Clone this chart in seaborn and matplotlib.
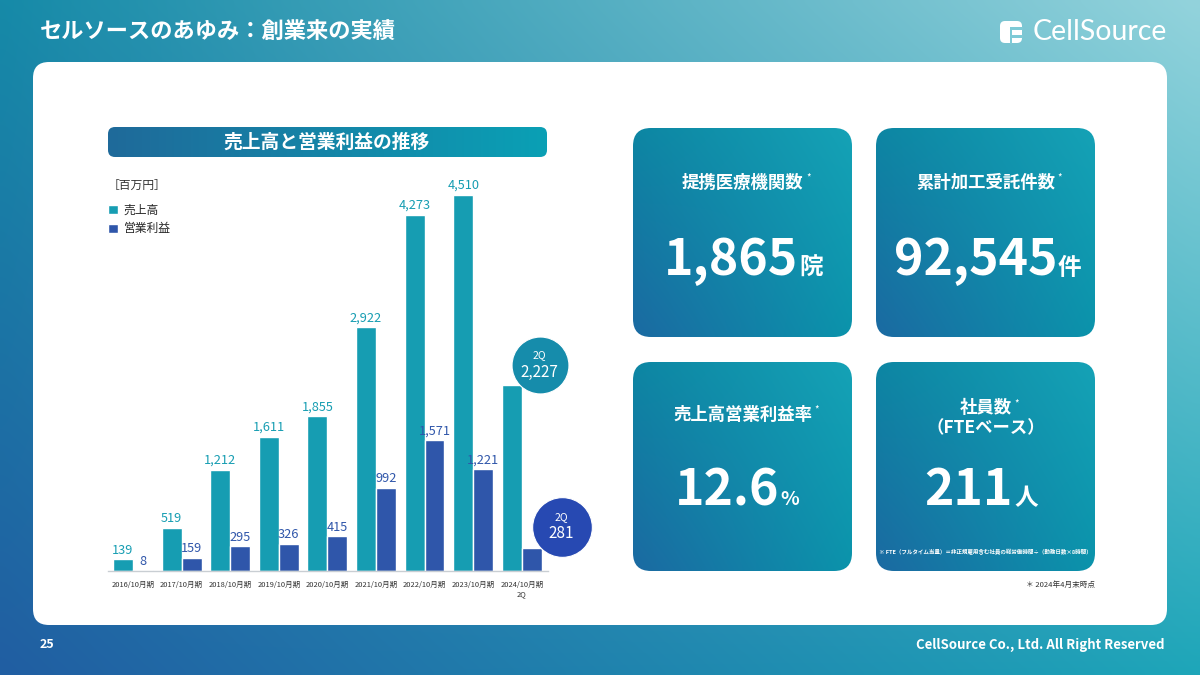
import numpy as np
import pandas as pd
import matplotlib
matplotlib.use("Agg")
import matplotlib.pyplot as plt
import matplotlib.transforms as mtransforms
from matplotlib.patches import FancyBboxPatch, Rectangle
from matplotlib.colors import to_rgb
import seaborn as sns

# === Data ===
periods = ["2016/10月期", "2017/10月期", "2018/10月期", "2019/10月期", "2020/10月期",
           "2021/10月期", "2022/10月期", "2023/10月期", "2024/10月期\n2Q"]
sales = [139, 519, 1212, 1611, 1855, 2922, 4273, 4510, 2227]
op_profit = [8, 159, 295, 326, 415, 992, 1571, 1221, 281]
series_names = ["売上高", "営業利益"]

kpi_titles = ["提携医療機関数", "累計加工受託件数", "売上高営業利益率", "社員数\n（FTEベース）"]
kpi_values = ["1,865", "92,545", "12.6", "211"]
kpi_units = ["院", "件", "%", "人"]

TEAL = "#169db2"
BLUE = "#2f56aa"

# === Style ===
sns.set_theme(style="white")
plt.rcParams["font.family"] = ["Noto Sans CJK JP", "DejaVu Sans"]


def gradient(tl, tr, bl, br, n=120):
    t = np.linspace(0, 1, n)
    xx, yy = np.meshgrid(t, t)
    c = [np.array(to_rgb(v)) for v in (tl, tr, bl, br)]
    top = (1 - xx)[..., None] * c[0] + xx[..., None] * c[1]
    bot = (1 - xx)[..., None] * c[2] + xx[..., None] * c[3]
    return (1 - yy)[..., None] * top + yy[..., None] * bot


fig = plt.figure(figsize=(12, 6.75), dpi=100)
bg = fig.add_axes([0, 0, 1, 1])
bg.set_xlim(0, 1200)
bg.set_ylim(675, 0)
bg.axis("off")

# slide background
bg.imshow(gradient("#168aa8", "#93d3dc", "#215ea2", "#1ea6b9"),
          extent=(0, 1200, 675, 0), aspect="auto", interpolation="bicubic", zorder=0)
bg.add_patch(FancyBboxPatch((33, 62), 1134, 563, boxstyle="round,pad=0,rounding_size=16",
                            fc="white", ec="none", zorder=1))

bg.text(40, 32, "セルソースのあゆみ：創業来の実績", color="white", fontsize=16,
        fontweight="bold", va="center", ha="left", zorder=3)
bg.text(1167, 32, "CellSource", color="white", fontsize=20.5, va="center", ha="right",
        family=["Lato", "DejaVu Sans"], zorder=3)
bg.add_patch(FancyBboxPatch((1000, 21), 22, 22, boxstyle="round,pad=0,rounding_size=5",
                            fc="white", ec="none", zorder=3))
bg.add_patch(Rectangle((1010, 26.5), 13, 3, fc="#7ecad6", ec="none", zorder=4))
bg.add_patch(Rectangle((1010, 34.5), 13, 3, fc="#7ecad6", ec="none", zorder=4))
bg.add_patch(Rectangle((1009.5, 26.5), 2, 17, fc="#7ecad6", ec="none", zorder=4))

bg.text(40, 645, "25", color="white", fontsize=9, fontweight="bold", va="center", zorder=3)
bg.text(1165, 645, "CellSource Co., Ltd. All Right Reserved", color="white", fontsize=9.5,
        fontweight="bold", va="center", ha="right", zorder=3)

# chart header bar
hdr = FancyBboxPatch((108, 127), 439, 30, boxstyle="round,pad=0,rounding_size=7",
                     fc="none", ec="none", zorder=2)
bg.add_patch(hdr)
im = bg.imshow(gradient("#1f6a9a", "#0aa0b5", "#1f6a9a", "#0aa0b5"),
               extent=(108, 547, 157, 127), aspect="auto", zorder=2)
im.set_clip_path(hdr)
bg.text(327, 142, "売上高と営業利益の推移", color="white", fontsize=13.5, fontweight="bold",
        ha="center", va="center", zorder=3)

# KPI cards
cards = [(633, 128), (876, 128), (633, 362), (876, 362)]
title_texts = []
for i, (x0, y0) in enumerate(cards):
    w, h = 219, 209
    p = FancyBboxPatch((x0, y0), w, h, boxstyle="round,pad=0,rounding_size=18",
                       fc="none", ec="none", zorder=2)
    bg.add_patch(p)
    im = bg.imshow(gradient("#0d86a3", "#15a2b6", "#1b6aa2", "#0b93ab"),
                   extent=(x0, x0 + w, y0 + h, y0), aspect="auto",
                   interpolation="bicubic", zorder=2)
    im.set_clip_path(p)
    cx = x0 + w / 2

    if i < 2:
        ty, ny = 183, 275
    else:
        ty, ny = 415, 505
    if i == 3:
        t = bg.text(cx, 408, "社員数", color="white", fontsize=12.5, fontweight="bold",
                    ha="center", va="center", zorder=3)
        bg.text(cx, 428, "（FTEベース）", color="white", fontsize=12.5, fontweight="bold",
                ha="center", va="center", zorder=3)
    else:
        t = bg.text(cx, ty, kpi_titles[i], color="white", fontsize=12.5, fontweight="bold",
                    ha="center", va="center", zorder=3)
    title_texts.append(t)

    split = {0: 798, 1: 1057, 2: 779, 3: 1013}[i]
    bg.text(split, ny, kpi_values[i], color="white", fontsize=36, fontweight="bold",
            ha="right", va="baseline", zorder=3)
    bg.text(split + 1, ny, kpi_units[i], color="white",
            fontsize=14 if kpi_units[i] == "%" else 17, fontweight="bold",
            ha="left", va="baseline", zorder=3)

# superscript asterisks just after each card title
fig.canvas.draw()
renderer = fig.canvas.get_renderer()
for t in title_texts:
    bb = t.get_window_extent(renderer)
    x_end = bb.x1 + 5
    y_top = 675 - bb.y1 + 4
    bg.text(x_end, y_top, "*", color="white", fontsize=7, ha="center", va="center", zorder=3)

bg.text(985, 552, "※ FTE（フルタイム当量）＝非正規雇用含む社員の総労働時間÷（勤務日数×8時間）",
        color="white", fontsize=4, fontweight="bold", ha="center", va="center", zorder=3)
bg.text(1095, 585, "＊ 2024年4月末時点", color="#333333", fontsize=5.5,
        ha="right", va="center", zorder=3)

# === Bar chart ===
df = pd.DataFrame({
    "period": periods * 2,
    "series": [series_names[0]] * len(periods) + [series_names[1]] * len(periods),
    "value": sales + op_profit,
})

ax = fig.add_axes([108 / 1200, 1 - 571 / 675, 440 / 1200, 396 / 675])
ax.set_facecolor("none")
sns.barplot(data=df, x="period", y="value", hue="series", palette=[TEAL, BLUE],
            saturation=1, width=0.82, ax=ax)
ax.set_xlim(-0.514, 8.54)
ax.set_ylim(0, 4748)
ax.set_xlabel("")
ax.set_ylabel("")
ax.set_yticks([])
for s in ["top", "right", "left"]:
    ax.spines[s].set_visible(False)
ax.spines["bottom"].set_color("#c9ced3")
ax.spines["bottom"].set_linewidth(1)
ax.tick_params(axis="x", length=0, pad=7, labelsize=5.4, labelcolor="#333333")

for cont, vals, col in zip(ax.containers, [sales, op_profit], [TEAL, BLUE]):
    labels = [f"{v:,}" for v in vals[:-1]] + [""]
    ax.bar_label(cont, labels=labels, color=col, fontsize=9.2, padding=2)

ax.legend(loc="upper left", bbox_to_anchor=(-0.01, 0.94), frameon=False, fontsize=8.5,
          handlelength=0.8, handleheight=0.8, handletextpad=0.5, labelspacing=0.5,
          borderaxespad=0)
ax.text(0.0, 0.975, "［百万円］", transform=ax.transAxes, fontsize=8.5, color="#333333",
        ha="left", va="center")

# 2Q callouts
last = len(periods) - 1
callouts = [(last - 0.205, sales[-1], 20, 14.5, "#168cab", 41),
            (last + 0.205, op_profit[-1], 21.5, 15, "#2749b2", 43)]
for xv, yv, dx, dy, col, size in callouts:
    tr = mtransforms.offset_copy(ax.transData, fig=fig, x=dx, y=dy, units="points")
    ax.plot([xv], [yv], marker="o", markersize=size, color=col, markeredgecolor="white",
            markeredgewidth=0.8, transform=tr, clip_on=False, zorder=5)
    tr_top = mtransforms.offset_copy(ax.transData, fig=fig, x=dx, y=dy + 7, units="points")
    tr_bot = mtransforms.offset_copy(ax.transData, fig=fig, x=dx, y=dy - 5, units="points")
    ax.text(xv, yv, "2Q", transform=tr_top, color="white", fontsize=7.5,
            ha="center", va="center", zorder=6)
    ax.text(xv, yv, f"{yv:,}", transform=tr_bot, color="white", fontsize=11,
            ha="center", va="center", zorder=6)

fig.savefig("out.png", dpi=100)
